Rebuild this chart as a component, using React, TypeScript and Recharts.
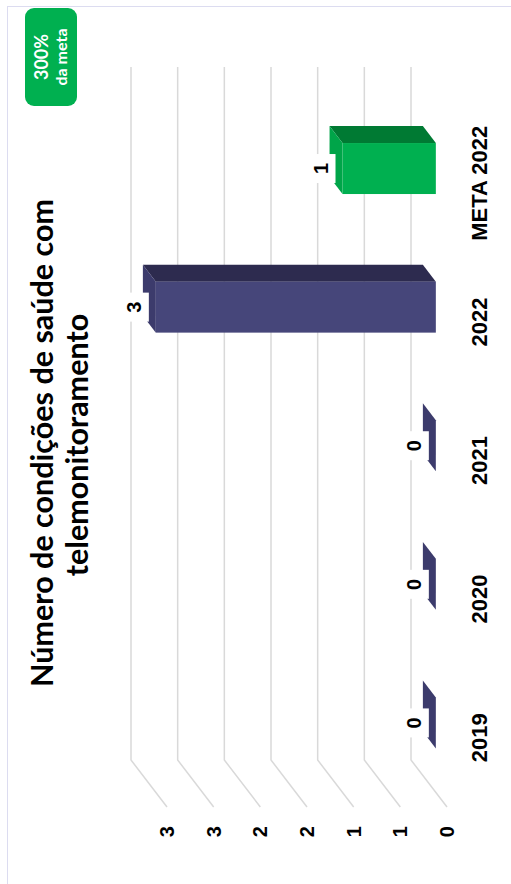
import React from 'react';
import { BarChart, Bar, XAxis, YAxis, CartesianGrid, LabelList, Cell } from 'recharts';

// dados
const categories = ['2019', '2020', '2021', '2022', 'META 2022'];
const values = [0, 0, 0, 3, 1];
const yTicks = [0, 0.5, 1, 1.5, 2, 2.5, 3];
const titleLines = ['Número de condições de saúde com', 'telemonitoramento'];
const badgeLines = ['300%', 'da meta'];

const data = categories.map((cat, i) => ({ cat, val: values[i] }));

// profundidade 3D (parede do fundo) e posicao da barra dentro dela
const DX = 47;
const DY = 36;
const F1 = 0.31;
const F2 = 0.67;

const NAVY = { front: '#46467a', top: '#3c3b6c', side: '#2d2b4f' };
const GREEN = { front: '#00b050', top: '#00a549', side: '#007a33' };

const W = 884;
const H = 511;

function Bar3D(props: any) {
  const { x, y, width, height, fill } = props;
  const c = fill === 'green' ? GREEN : NAVY;
  const fx = x + F1 * DX;
  const fy = y - F1 * DY;
  const bx = x + F2 * DX;
  const by = y - F2 * DY;
  const h = Math.max(height, 0);
  return (
    <g>
      <polygon
        points={`${fx + width},${fy} ${bx + width},${by} ${bx + width},${by + h} ${fx + width},${fy + h}`}
        fill={c.side}
      />
      <polygon points={`${fx},${fy} ${fx + width},${fy} ${bx + width},${by} ${bx},${by}`} fill={c.top} />
      {h > 0 && <rect x={fx} y={fy} width={width} height={h} fill={c.front} />}
    </g>
  );
}

function ValueLabel(props: any) {
  const vb = props.viewBox ?? props;
  const { x, y, width } = vb;
  const cx = x + width / 2 + F1 * DX;
  const cy = y - F1 * DY - 21.5;
  return (
    <g>
      <rect x={cx - 14.5} y={cy - 14.5} width={29} height={29} fill="#ffffff" />
      <text
        x={cx}
        y={cy + 7}
        textAnchor="middle"
        fontFamily="'Liberation Sans', Arial, sans-serif"
        fontWeight="bold"
        fontSize={20}
        fill="#000"
      >
        {props.value}
      </text>
    </g>
  );
}

const gridLine = (p: any) => (
  <path
    key={p.key}
    d={`M${p.x1},${p.y1} L${p.x1 + DX},${p.y1 - DY} L${p.x2 + DX},${p.y1 - DY}`}
    stroke="#d9d9d9"
    strokeWidth={1.5}
    fill="none"
  />
);

export default function App() {
  return (
    <div style={{ position: 'absolute', left: 0, top: 0, width: 511, height: 884, overflow: 'hidden', background: '#fff' }}>
      <div
        style={{
          position: 'absolute',
          left: 0,
          top: 0,
          width: W,
          height: H,
          transformOrigin: '0 0',
          transform: `translate(0px, ${W}px) rotate(-90deg)`,
        }}
      >
        <div
          style={{
            position: 'absolute',
            left: -10,
            top: 7,
            width: 888,
            height: 530,
            boxSizing: 'border-box',
            border: '1.5px solid #dcdcf0',
          }}
        />
        <svg width={W} height={110} style={{ position: 'absolute', left: 0, top: 0 }}>
          <text x={441} y={53} textAnchor="middle" fontFamily="Lato, sans-serif" fontWeight="bold" fontSize={30.5} fill="#000">
            {titleLines[0]}
          </text>
          <text x={439} y={88} textAnchor="middle" fontFamily="Lato, sans-serif" fontWeight="bold" fontSize={30.5} fill="#000">
            {titleLines[1]}
          </text>
        </svg>
        <div
          style={{
            position: 'absolute',
            left: 778,
            top: 25,
            width: 98,
            height: 52,
            borderRadius: 9,
            background: '#00b050',
            color: '#fff',
            fontFamily: 'Lato, sans-serif',
            fontWeight: 'bold',
            textAlign: 'center',
            display: 'flex',
            flexDirection: 'column',
            justifyContent: 'center',
            lineHeight: '19px',
          }}
        >
          <div style={{ fontSize: 18 }}>{badgeLines[0]}</div>
          <div style={{ fontSize: 16 }}>{badgeLines[1]}</div>
        </div>
        <div style={{ position: 'absolute', left: 0, top: 0 }}>
          <BarChart width={W} height={H} data={data} margin={{ top: 167, right: 114, bottom: 0, left: 0 }}>
            <CartesianGrid vertical={false} horizontal={gridLine} />
            <XAxis
              dataKey="cat"
              height={64}
              interval={0}
              axisLine={false}
              tickLine={false}
              tickSize={0}
              tickMargin={24}
              tick={{ fontSize: 22, fontWeight: 'bold', fill: '#000', fontFamily: "'Liberation Sans', Arial, sans-serif" }}
            />
            <YAxis
              type="number"
              width={77}
              domain={[0, 3]}
              ticks={yTicks}
              allowDecimals
              axisLine={false}
              tickLine={false}
              tickSize={0}
              tickMargin={19}
              tickFormatter={(v: number) => String(Math.round(v))}
              tick={{ fontSize: 20, fontWeight: 'bold', fill: '#000', fontFamily: "'Liberation Sans', Arial, sans-serif" }}
            />
            <Bar dataKey="val" barSize={51} shape={Bar3D} isAnimationActive={false}>
              {data.map((d) => (
                <Cell key={d.cat} fill={d.cat === 'META 2022' ? 'green' : 'navy'} />
              ))}
              <LabelList dataKey="val" content={ValueLabel} />
            </Bar>
          </BarChart>
        </div>
      </div>
    </div>
  );
}
